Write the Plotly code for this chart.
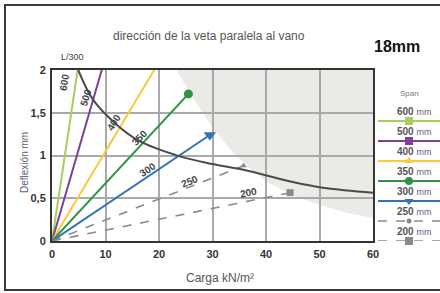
import math
import plotly.graph_objects as go

# ---------------- data ----------------
spans = ["600", "500", "400", "350", "300", "250", "200"]
end_load = [4.8, 9.3, 19.1, 25.5, 29.5, 35.8, 44.5]
end_defl = [2.0, 2.0, 2.0, 1.72, 1.24, 0.88, 0.565]
line_colors = ["#a8cd5e", "#7d3f9c", "#fbc93d", "#2e9343", "#3373b3", "#8a8a8a", "#8a8a8a"]
line_dash = ["solid", "solid", "solid", "solid", "solid", "dash", "dash"]
end_symbol = [None, None, None, "circle", "triangle-down", "triangle-up", "square"]
legend_symbol = ["square", "square", "triangle-up", "circle", "triangle-down", "circle", "square"]

label_load = [2.4, 6.3, 11.5, 16.4, 17.9, 25.7, 36.8]
label_defl = [1.86, 1.68, 1.39, 1.21, 0.84, 0.70, 0.57]

limit_load = [4.9, 7.7, 12.1, 16.3, 23.9, 30.0, 36.0, 45.0, 51.0, 60.0]
limit_defl = [2.0, 1.65, 1.36, 1.17, 0.99, 0.90, 0.83, 0.69, 0.62, 0.565]

zone_load = [23.3, 26.4, 30.1, 33.9, 37.0, 40.0, 44.5, 50.0, 55.0, 60.0]
zone_defl = [2.0, 1.67, 1.32, 1.03, 0.85, 0.70, 0.55, 0.42, 0.33, 0.27]

x_ticks = [0, 10, 20, 30, 40, 50, 60]
y_ticks = [0, 0.5, 1, 1.5, 2]
y_ticktext = ["0", "0,5", "1", "1,5", "2"]

FONT = "Liberation Sans"
W, H = 440, 293
ML, MT, MB = 52, 70, 52
PLOT_W = 321
PLOT_H = H - MT - MB
PAPER_W = W - ML

fig = go.Figure()

# shaded zone (below grid)
path = "M " + " L ".join(f"{x},{y}" for x, y in zip(zone_load, zone_defl))
path += f" L {x_ticks[-1]},{y_ticks[-1]} Z"
fig.add_shape(type="path", path=path, xref="x", yref="y", layer="below",
              fillcolor="#ebeae7", line=dict(width=0))

# span lines
for i, s in enumerate(spans):
    fig.add_trace(go.Scatter(
        x=[0, end_load[i]], y=[0, end_defl[i]], mode="lines",
        line=dict(color=line_colors[i], width=2 if line_dash[i] == "solid" else 1.6,
                  dash=line_dash[i]),
        hoverinfo="skip", showlegend=False, cliponaxis=True))
    if end_symbol[i]:
        sz = {"circle": 9, "triangle-down": 11, "triangle-up": 6, "square": 7}[end_symbol[i]]
        fig.add_trace(go.Scatter(
            x=[end_load[i]], y=[end_defl[i]], mode="markers",
            marker=dict(symbol=end_symbol[i], size=sz, color=line_colors[i],
                        line=dict(width=0)),
            hoverinfo="skip", showlegend=False, cliponaxis=False))

# L/300 limit curve
fig.add_trace(go.Scatter(x=limit_load, y=limit_defl, mode="lines",
                         line=dict(color="#4a4a4a", width=2, shape="spline"),
                         hoverinfo="skip", showlegend=False))

# line labels rotated along the lines
px_per_x = PLOT_W / 60.0
px_per_y = PLOT_H / 2.0
for i, s in enumerate(spans):
    ang = math.degrees(math.atan((end_defl[i] / end_load[i]) * px_per_y / px_per_x))
    fig.add_annotation(x=label_load[i], y=label_defl[i], xref="x", yref="y",
                       text=s, showarrow=False, textangle=-ang,
                       xanchor="center", yanchor="middle",
                       font=dict(family=FONT, size=10, color="#444444", weight="bold"))

# legend on its own axes
leg_y = [(PLOT_H - (121 - MT + 20 * k)) / PLOT_H for k in range(len(spans))]
for i, s in enumerate(spans):
    fig.add_trace(go.Scatter(x=[0, 1.1], y=[leg_y[i], leg_y[i]], mode="lines",
                             xaxis="x2", yaxis="y2",
                             line=dict(color=line_colors[i], width=2 if line_dash[i] == "solid" else 1.6,
                                       dash=line_dash[i]),
                             hoverinfo="skip", showlegend=False, cliponaxis=False))
    fig.add_trace(go.Scatter(x=[0.5], y=[leg_y[i]], mode="markers", xaxis="x2", yaxis="y2",
                             marker=dict(symbol=legend_symbol[i],
                                         size=5 if i == 5 else 8, color=line_colors[i]),
                             hoverinfo="skip", showlegend=False, cliponaxis=False))
    fig.add_annotation(x=0.58, y=leg_y[i] + 9.5 / PLOT_H, xref="x2", yref="y2",
                       xanchor="center", yanchor="middle",
                       text=f"<b>{s}</b> <span style='font-size:9px;color:#6a5a80'>mm</span>",
                       showarrow=False,
                       font=dict(family=FONT, size=10, color="#555555"))

def px(xp):
    return (xp - ML) / PAPER_W

def py(yp):
    return (H - MB - yp) / PLOT_H

def paper_text(x, y, text, size, color, bold=False, angle=0):
    fig.add_annotation(x=px(x), y=py(y), xref="paper", yref="paper", text=text,
                       showarrow=False, xanchor="center", yanchor="middle", textangle=angle,
                       font=dict(family=FONT, size=size, color=color,
                                 weight="bold" if bold else "normal"))

paper_text(409, 93, "Span", 8, "#7a7a8a")
paper_text(209, 36, "dirección de la veta paralela al vano", 12, "#555555")
paper_text(397, 46, "18mm", 16, "#111111", bold=True)
paper_text(72, 57, "L/300", 9, "#444444")
paper_text(220, 278, "Carga kN/m²", 12, "#555555")
paper_text(24, 163, "Deflexión mm", 10, "#5a6070", angle=-90)

# outer frame
fig.add_shape(type="rect", xref="paper", yref="paper",
              x0=px(5), x1=px(447), y0=py(290), y1=py(5),
              line=dict(color="#3a3a3a", width=2), layer="above")

fig.update_layout(
    width=W, height=H,
    margin=dict(l=ML, r=0, t=MT, b=MB, autoexpand=False),
    paper_bgcolor="white", plot_bgcolor="white",
    showlegend=False,
    xaxis=dict(domain=[0, PLOT_W / PAPER_W], range=[0, 60], tickvals=x_ticks,
               showgrid=True, gridcolor="#a9a9a9", gridwidth=1.5,
               showline=True, linecolor="#333333", linewidth=2, mirror=True,
               zeroline=False, ticks="", ticklabelstandoff=2,
               tickfont=dict(family=FONT, size=11, color="#333333", weight="bold")),
    yaxis=dict(range=[0, 2], tickvals=y_ticks, ticktext=y_ticktext,
               showgrid=True, gridcolor="#a9a9a9", gridwidth=1.5,
               showline=True, linecolor="#333333", linewidth=2, mirror=True,
               zeroline=False, ticks="", ticklabelstandoff=2,
               tickfont=dict(family=FONT, size=11, color="#333333", weight="bold")),
    xaxis2=dict(domain=[(378 - ML) / PAPER_W, 1], range=[0, 1], visible=False,
                anchor="y2", fixedrange=True),
    yaxis2=dict(domain=[0, 1], range=[0, 1], visible=False, anchor="x2", fixedrange=True),
)

fig.write_html("out.html", config={"displayModeBar": False},
               post_script="document.body.style.margin='0';document.body.style.overflow='hidden';")
